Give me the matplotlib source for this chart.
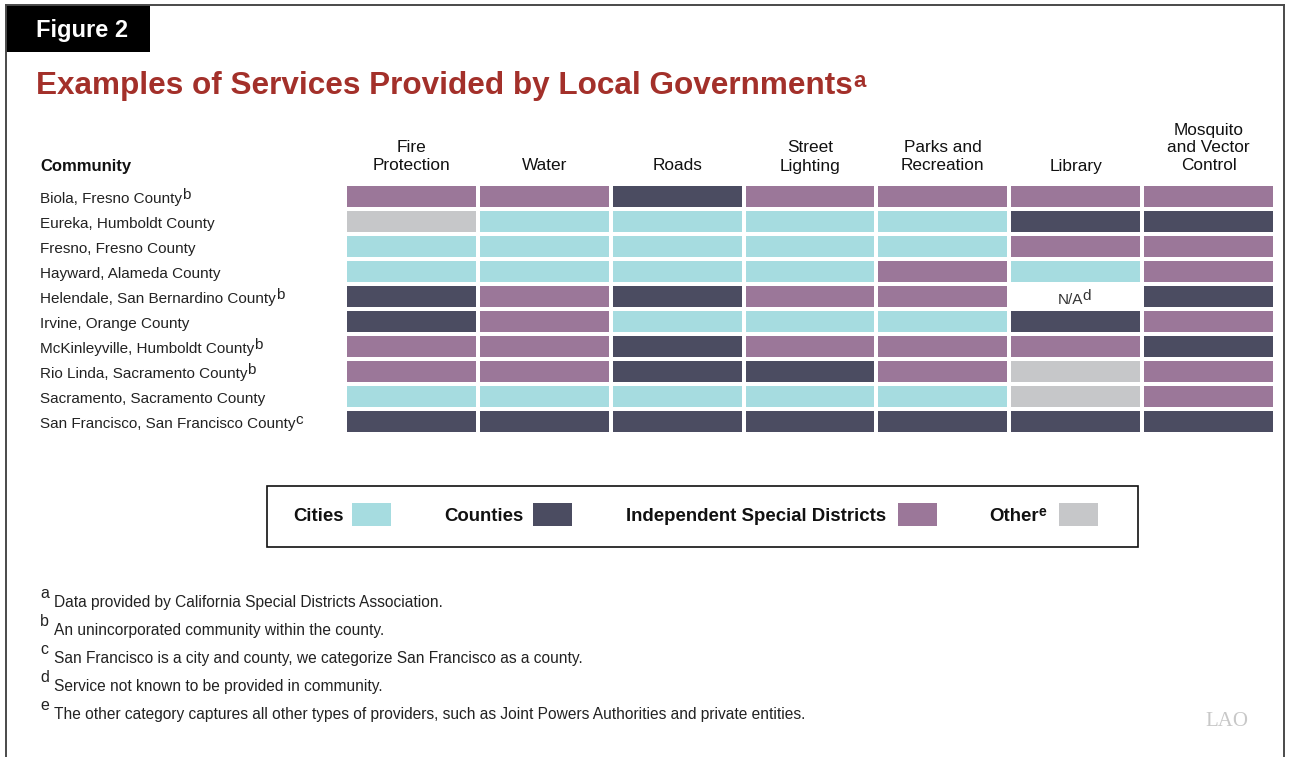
import numpy as np
import matplotlib
matplotlib.use("Agg")
import matplotlib.pyplot as plt
from matplotlib.colors import ListedColormap, BoundaryNorm
from matplotlib.patches import Rectangle
from matplotlib.lines import Line2D
import matplotlib.transforms as mtransforms

plt.rcParams['font.family'] = ['Liberation Sans', 'DejaVu Sans']

# ---------------- data ----------------
services = ["Fire\nProtection", "Water", "Roads", "Street\nLighting",
            "Parks and\nRecreation", "Library", "Mosquito\nand Vector\nControl"]
communities = ["Biola, Fresno County", "Eureka, Humboldt County", "Fresno, Fresno County",
               "Hayward, Alameda County", "Helendale, San Bernardino County",
               "Irvine, Orange County", "McKinleyville, Humboldt County",
               "Rio Linda, Sacramento County", "Sacramento, Sacramento County",
               "San Francisco, San Francisco County"]
community_notes = ["b", "", "", "", "b", "", "b", "b", "", "c"]
# C = Cities, K = Counties, D = Independent Special Districts, O = Other, N = N/A
providers = [
    "DDKDDDD",
    "OCCCCKK",
    "CCCCCDD",
    "CCCCDCD",
    "KDKDDNK",
    "KDCCCKD",
    "DDKDDDK",
    "DDKKDOD",
    "CCCCCOD",
    "KKKKKKK",
]
legend_labels = ["Cities", "Counties", "Independent Special Districts", "Other"]
legend_notes = ["", "", "", "e"]
footnote_letters = ["a", "b", "c", "d", "e"]
footnotes = ["Data provided by California Special Districts Association.",
             "An unincorporated community within the county.",
             "San Francisco is a city and county, we categorize San Francisco as a county.",
             "Service not known to be provided in community.",
             "The other category captures all other types of providers, such as Joint Powers Authorities and private entities."]

# ---------------- style ----------------
codes_order = ["C", "K", "D", "O", "N"]
colors = ["#A6DCE0", "#4B4C61", "#9B7799", "#C6C7C9", "#FFFFFF"]
W, H = 1312, 757

def fx(x):
    return x / W

def fy(y):
    return 1 - y / H

fig = plt.figure(figsize=(W / 100, H / 100), dpi=100)
renderer = fig.canvas.get_renderer()

def add_sup(txt_artist, note, size, rise_px, gap_px=1, **kw):
    """Place a superscript note right after a text artist."""
    bb = txt_artist.get_window_extent(renderer=renderer)
    x = (bb.x1 + gap_px) / fig.bbox.width
    y = (bb.y0 + rise_px) / fig.bbox.height
    fig.text(x, y, note, fontsize=size, ha="left", va="baseline", **kw)

# frame
frame_col = "#4a4a4a"
fig.add_artist(Line2D([fx(6), fx(6)], [fy(5), 0], color=frame_col, lw=1.4, transform=fig.transFigure))
fig.add_artist(Line2D([fx(6), fx(1284)], [fy(5), fy(5)], color=frame_col, lw=1.4, transform=fig.transFigure))
fig.add_artist(Line2D([fx(1284), fx(1284)], [fy(5), 0], color=frame_col, lw=1.4, transform=fig.transFigure))
fig.add_artist(Rectangle((fx(6), fy(52)), fx(150) - fx(6), fy(5) - fy(52), facecolor="black",
                         edgecolor="none", transform=fig.transFigure))
fig.text(fx(36), fy(30), "Figure 2", color="white", fontsize=17, fontweight="bold", va="center", ha="left")

# title
title = fig.text(fx(36), fy(94), "Examples of Services Provided by Local Governments",
                 color="#A3302A", fontsize=22.7, fontweight="bold", va="baseline", ha="left")
add_sup(title, "a", 16, 14, gap_px=1, color="#A3302A", fontweight="bold")

# grid
ax = fig.add_axes([fx(345), fy(434), fx(1275) - fx(345), fy(184) - fy(434)])
mat = np.array([[codes_order.index(c) for c in row] for row in providers])
cmap = ListedColormap(colors)
norm = BoundaryNorm(np.arange(-0.5, len(colors) + 0.5, 1), cmap.N)
ax.pcolormesh(np.arange(len(services) + 1), np.arange(len(communities) + 1), mat,
              cmap=cmap, norm=norm, edgecolors="white", linewidth=1.5)
ax.set_xlim(0, len(services))
ax.set_ylim(len(communities), 0)
ax.axis("off")

# column headers
tr_head = mtransforms.blended_transform_factory(ax.transData, fig.transFigure)
for j, s in enumerate(services):
    ax.text(j + 0.5, fy(173.5), s, transform=tr_head, ha="center", va="bottom",
            fontsize=12.4, color="#111111", linespacing=1.25)
fig.text(fx(40), fy(167), "Community", fontsize=12, fontweight="bold", color="#111111",
         va="center", ha="left")

fig.canvas.draw()

# N/A text
for i, row in enumerate(providers):
    for j, c in enumerate(row):
        if c == "N":
            t = ax.annotate("N/A", xy=(j + 0.5, i + 0.5), xycoords="data", xytext=(-4, -5.5),
                            textcoords="offset points", ha="center", va="baseline",
                            fontsize=11, color="#333333")
            fig.canvas.draw()
            add_sup(t, "d", 11, 7, gap_px=0, color="#333333")

# row labels
tr_row = mtransforms.blended_transform_factory(fig.transFigure, ax.transData)
row_texts = []
for i, name in enumerate(communities):
    t = ax.annotate(name, xy=(fx(40), i + 0.5), xycoords=tr_row, xytext=(0, -4.8),
                    textcoords="offset points", ha="left", va="baseline", fontsize=11,
                    color="#222222", annotation_clip=False)
    row_texts.append(t)
fig.canvas.draw()
for t, note in zip(row_texts, community_notes):
    if note:
        add_sup(t, note, 11, 7, gap_px=0, color="#222222")

# legend box
fig.add_artist(Rectangle((fx(267), fy(547)), fx(1138) - fx(267), fy(486) - fy(547),
                         facecolor="white", edgecolor="#111111", lw=1.2, transform=fig.transFigure))
leg_text_x = [293, 444, 626, 989]
leg_swatch_x = [352, 533, 898, 1059]
leg_texts = []
for lab, tx, sx, col in zip(legend_labels, leg_text_x, leg_swatch_x, colors[:4]):
    t = fig.text(fx(tx), fy(521), lab, fontsize=13.4, fontweight="bold", color="#111111",
                 ha="left", va="baseline")
    leg_texts.append(t)
    fig.add_artist(Rectangle((fx(sx), fy(526)), fx(sx + 39) - fx(sx), fy(503) - fy(526),
                             facecolor=col, edgecolor="none", transform=fig.transFigure))
fig.canvas.draw()
for t, note in zip(leg_texts, legend_notes):
    if note:
        add_sup(t, note, 10, 9, gap_px=0, color="#111111", fontweight="bold")

# footnotes
for k, (letter, note) in enumerate(zip(footnote_letters, footnotes)):
    yc = 602 + k * 28
    fig.text(fx(40), fy(yc - 8), letter, fontsize=11.5, color="#222222", ha="left", va="center")
    fig.text(fx(54), fy(yc), note, fontsize=11.2, color="#222222", ha="left", va="center")

# LAO logo text
fig.text(fx(1205), fy(721), "LAO", fontsize=15, color="#C8C8C8", family="Liberation Serif",
         ha="left", va="center")

fig.savefig("out.png", dpi=100)
